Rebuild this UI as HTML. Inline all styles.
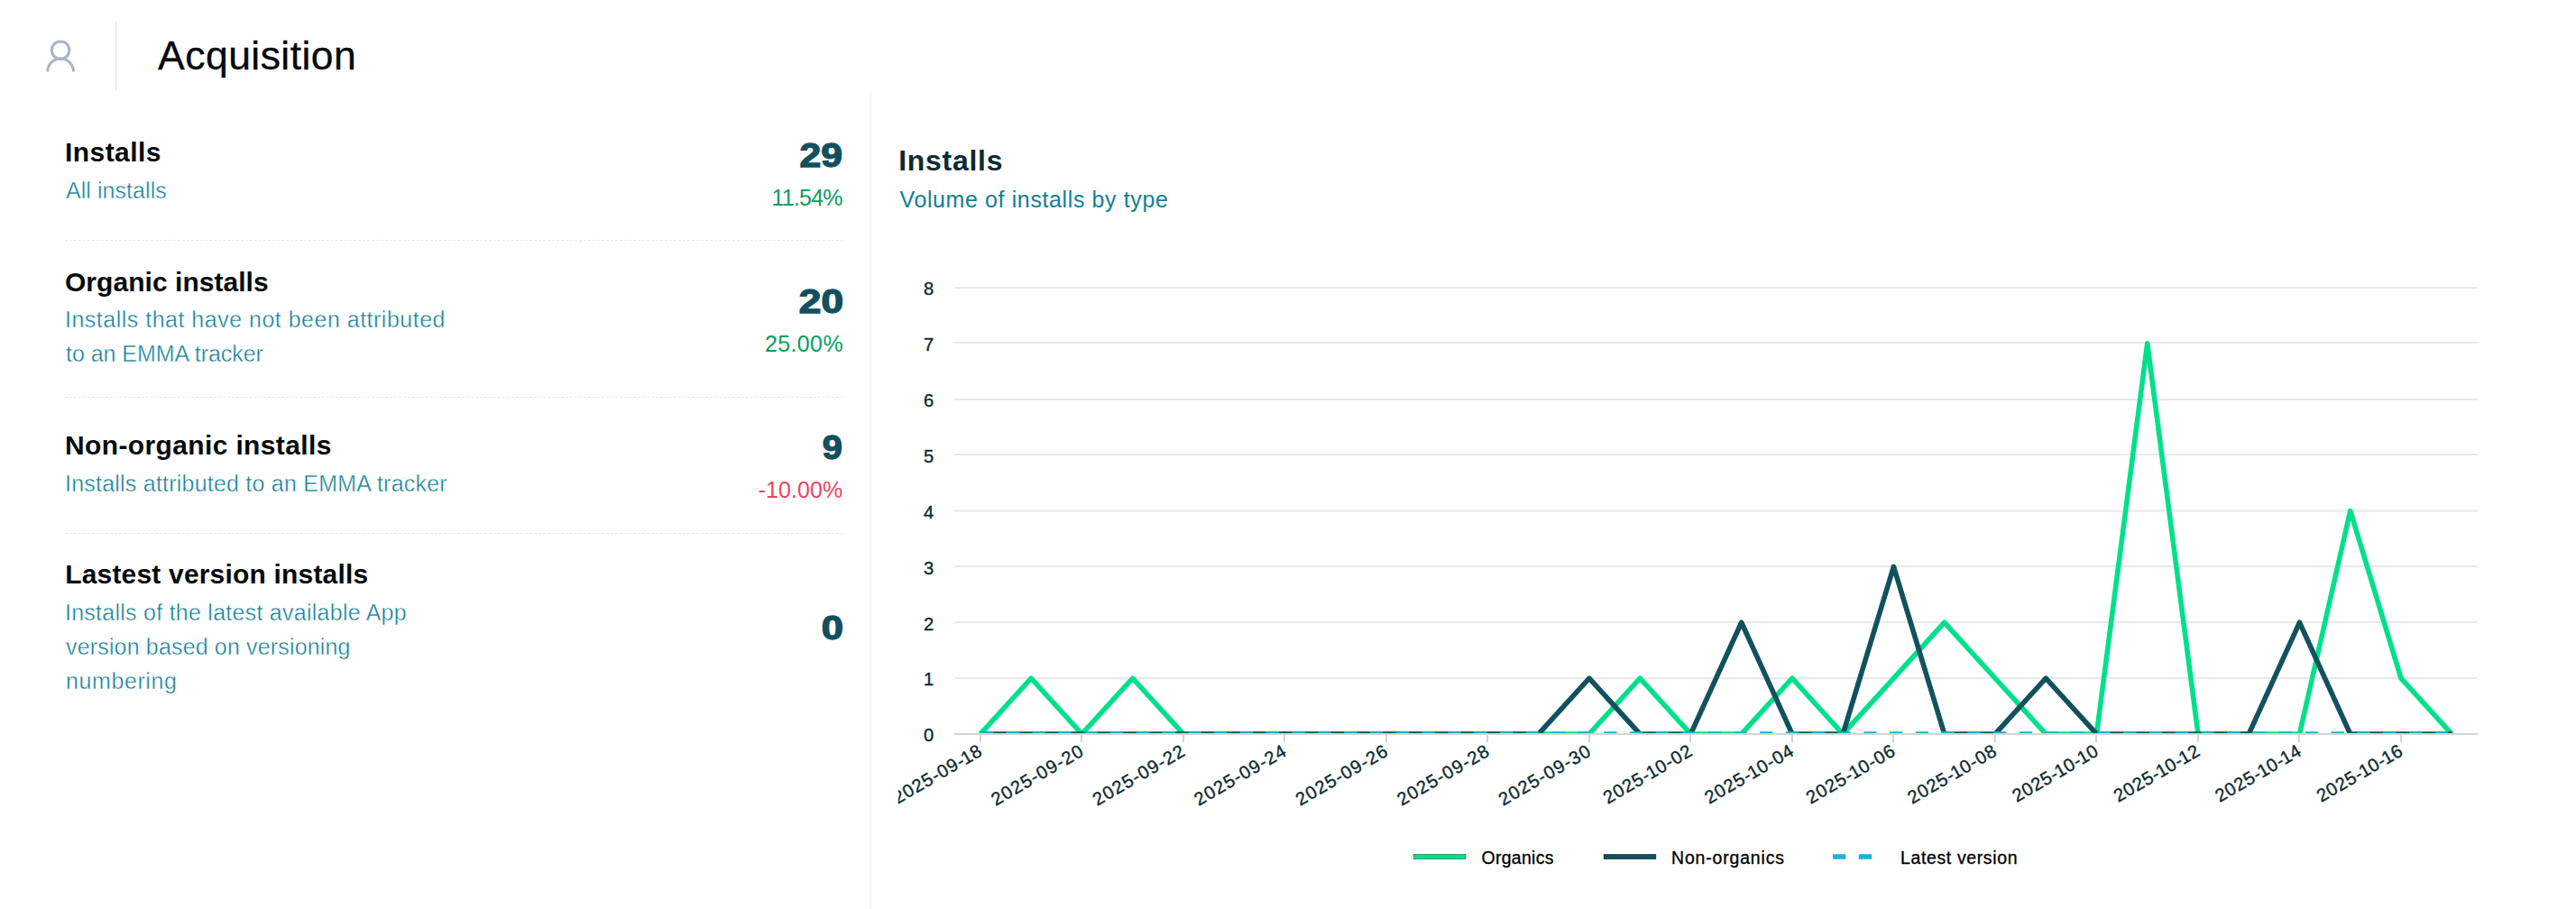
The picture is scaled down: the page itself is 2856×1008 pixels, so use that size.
<!DOCTYPE html><html lang="en"><head><meta charset="utf-8"><title>Acquisition</title><style>
*{margin:0;padding:0;box-sizing:border-box}
html,body{width:2856px;height:1008px;overflow:hidden;background:#fff}
body{position:relative;font-family:"Liberation Sans",Arial,sans-serif;color:#05090b}
.t{position:absolute;white-space:nowrap;line-height:1;font-weight:400}
.ln{display:block}
.h{font-weight:700;color:#04090b}
.d{color:#147f98;-webkit-text-stroke:0.4px #fff}
.n{font-weight:700;color:#13505f;-webkit-text-stroke:1.3px #13505f;transform-origin:100% 50%}
.up{color:#089f5c}
.dn{color:#f0425f}
.sep{position:absolute;left:72px;width:862px;height:1px;background:repeating-linear-gradient(90deg,#e4e7ee 0 3px,transparent 3px 5px)}
.v1{position:absolute;left:128px;top:23px;width:1px;height:78px;background:#dfe2ec}
.v2{position:absolute;left:965px;top:101px;width:1px;height:907px;background:#ecedf4}
.ico{position:absolute;left:47px;top:40px;width:40px;height:44px}
#chart{position:absolute;left:996px;top:250px;width:1860px;height:758px;overflow:hidden}
#chart text{font-family:"Liberation Sans",Arial,sans-serif}
.ax{fill:#0b2a33;font-size:20.3px;stroke:#0b2a33;stroke-width:.35px}
.lg{fill:#000;font-size:19.5px;stroke:#000;stroke-width:.3px}
</style></head><body>
<header>
<div class="ico"><svg width="40" height="44" viewBox="47 40 40 44" fill="none" stroke="#aab3cb" stroke-width="3"><circle cx="67.1" cy="55.7" r="9.75"/><path d="M52.75 79.4a14.35 14.35 0 0 1 28.7 0"/></svg></div>
<div class="v1"></div>
<h1 id="title" class="t" style="left:175.10px;top:39.71px;font-size:44.6px;letter-spacing:0.4px;color:#04090b;-webkit-text-stroke:.3px #04090b">Acquisition</h1>
</header>
<div class="v2"></div>
<section id="kpis">
<h3 id="h1" class="t h" style="left:72.00px;top:153.91px;font-size:30px;letter-spacing:0.429px;">Installs</h3>
<p id="d1" class="t d" style="left:73.00px;top:198.81px;font-size:25px;letter-spacing:0.055px;">All installs</p>
<strong id="n1" class="t n" style="right:1922.00px;top:154.81px;font-size:36px;transform:scaleX(1.1878);">29</strong>
<span id="p1" class="t up" style="right:1922.16px;top:207.01px;font-size:25px;letter-spacing:-0.76px;">11.54%</span>
<div class="sep" style="top:266px"></div>
<h3 id="h2" class="t h" style="left:72.00px;top:297.70px;font-size:30px;letter-spacing:0.04px;">Organic installs</h3>
<p id="d2" class="t d" style="left:72px;top:334.80px;font-size:25px;line-height:38.2px;"><span id="d2_0" class="ln" style="letter-spacing:0.497px;margin-left:0.00px">Installs that have not been attributed</span><span id="d2_1" class="ln" style="letter-spacing:-0.035px;margin-left:1.00px">to an EMMA tracker</span></p>
<strong id="n2" class="t n" style="right:1921.40px;top:317.40px;font-size:36px;transform:scaleX(1.2310);">20</strong>
<span id="p2" class="t up" style="right:1921.04px;top:369.01px;font-size:25px;letter-spacing:0.36px;">25.00%</span>
<div class="sep" style="top:440px"></div>
<h3 id="h3" class="t h" style="left:72.00px;top:478.91px;font-size:30px;letter-spacing:0.368px;">Non-organic installs</h3>
<p id="d3" class="t d" style="left:72.00px;top:523.90px;font-size:25px;letter-spacing:0.222px;">Installs attributed to an EMMA tracker</p>
<strong id="n3" class="t n" style="right:1921.80px;top:479.10px;font-size:36px;transform:scaleX(1.1084);">9</strong>
<span id="p3" class="t dn" style="right:1921.70px;top:530.90px;font-size:25px;letter-spacing:0.1px;">-10.00%</span>
<div class="sep" style="top:591px"></div>
<h3 id="h4" class="t h" style="left:72.20px;top:621.91px;font-size:30px;letter-spacing:0.183px;">Lastest version installs</h3>
<p id="d4" class="t d" style="left:72px;top:659.91px;font-size:25px;line-height:38.15px;"><span id="d4_0" class="ln" style="letter-spacing:0.257px;margin-left:0.00px">Installs of the latest available App</span><span id="d4_1" class="ln" style="letter-spacing:0.162px;margin-left:1.00px">version based on versioning</span><span id="d4_2" class="ln" style="letter-spacing:0.6px;margin-left:1.00px">numbering</span></p>
<strong id="n4" class="t n" style="right:1921.40px;top:679.31px;font-size:36px;transform:scaleX(1.2105);">0</strong>
</section>
<section id="panel">
<h2 id="ct" class="t" style="left:996.20px;top:162.20px;font-size:32px;letter-spacing:0.714px;font-weight:700;color:#0a2b34">Installs</h2>
<p id="cs" class="t" style="left:997.50px;top:208.60px;font-size:25px;letter-spacing:0.608px;color:#147e97">Volume of installs by type</p>
<svg id="chart" width="1860" height="758" viewBox="996 250 1860 758">
<defs><clipPath id="plot"><rect x="1058" y="300" width="1690" height="513"/></clipPath></defs>
<g stroke="#e9e9e9" stroke-width="2">
<line x1="1058" y1="319" x2="2747" y2="319"/>
<line x1="1058" y1="380" x2="2747" y2="380"/>
<line x1="1058" y1="443" x2="2747" y2="443"/>
<line x1="1058" y1="504" x2="2747" y2="504"/>
<line x1="1058" y1="566.5" x2="2747" y2="566.5"/>
<line x1="1058" y1="628" x2="2747" y2="628"/>
<line x1="1058" y1="690" x2="2747" y2="690"/>
<line x1="1058" y1="752" x2="2747" y2="752"/>
</g>
<g clip-path="url(#plot)" fill="none" stroke-width="5.6" stroke-linejoin="round" stroke-linecap="butt">
<path d="M1087.00 814.00 L1143.25 752.12 L1199.50 814.00 L1255.75 752.12 L1312.00 814.00 L1368.25 814.00 L1424.50 814.00 L1480.75 814.00 L1537.00 814.00 L1593.25 814.00 L1649.50 814.00 L1705.75 814.00 L1762.00 814.00 L1818.25 752.12 L1874.50 814.00 L1930.75 814.00 L1987.00 752.12 L2043.25 814.00 L2099.50 752.12 L2155.75 690.25 L2212.00 752.12 L2268.25 814.00 L2324.50 814.00 L2380.75 380.88 L2437.00 814.00 L2493.25 814.00 L2549.50 814.00 L2605.75 566.50 L2662.00 752.12 L2718.25 814.00" stroke="#00e08a"/>
<path d="M1087.00 814.00 L1143.25 814.00 L1199.50 814.00 L1255.75 814.00 L1312.00 814.00 L1368.25 814.00 L1424.50 814.00 L1480.75 814.00 L1537.00 814.00 L1593.25 814.00 L1649.50 814.00 L1705.75 814.00 L1762.00 752.12 L1818.25 814.00 L1874.50 814.00 L1930.75 690.25 L1987.00 814.00 L2043.25 814.00 L2099.50 628.38 L2155.75 814.00 L2212.00 814.00 L2268.25 752.12 L2324.50 814.00 L2380.75 814.00 L2437.00 814.00 L2493.25 814.00 L2549.50 690.25 L2605.75 814.00 L2662.00 814.00 L2718.25 814.00" stroke="#12515e"/>
<path d="M1087.00 814.00 L1143.25 814.00 L1199.50 814.00 L1255.75 814.00 L1312.00 814.00 L1368.25 814.00 L1424.50 814.00 L1480.75 814.00 L1537.00 814.00 L1593.25 814.00 L1649.50 814.00 L1705.75 814.00 L1762.00 814.00 L1818.25 814.00 L1874.50 814.00 L1930.75 814.00 L1987.00 814.00 L2043.25 814.00 L2099.50 814.00 L2155.75 814.00 L2212.00 814.00 L2268.25 814.00 L2324.50 814.00 L2380.75 814.00 L2437.00 814.00 L2493.25 814.00 L2549.50 814.00 L2605.75 814.00 L2662.00 814.00 L2718.25 814.00" stroke="#18b2db" stroke-dasharray="14.4 14.4" stroke-linecap="butt"/>
</g>
<g stroke="#d4d4d4" stroke-width="2">
<line x1="1058" y1="814" x2="2747" y2="814"/>
<line x1="1087" y1="814" x2="1087" y2="823"/>
<line x1="1199" y1="814" x2="1199" y2="823"/>
<line x1="1312" y1="814" x2="1312" y2="823"/>
<line x1="1424" y1="814" x2="1424" y2="823"/>
<line x1="1537" y1="814" x2="1537" y2="823"/>
<line x1="1649" y1="814" x2="1649" y2="823"/>
<line x1="1762" y1="814" x2="1762" y2="823"/>
<line x1="1874" y1="814" x2="1874" y2="823"/>
<line x1="1987" y1="814" x2="1987" y2="823"/>
<line x1="2099" y1="814" x2="2099" y2="823"/>
<line x1="2212" y1="814" x2="2212" y2="823"/>
<line x1="2324" y1="814" x2="2324" y2="823"/>
<line x1="2437" y1="814" x2="2437" y2="823"/>
<line x1="2549" y1="814" x2="2549" y2="823"/>
<line x1="2662" y1="814" x2="2662" y2="823"/>
</g>
<g class="ax" text-anchor="end">
<text x="1035.2" y="822.3">0</text>
<text x="1035.2" y="760.4">1</text>
<text x="1035.2" y="698.5">2</text>
<text x="1035.2" y="636.7">3</text>
<text x="1035.2" y="574.8">4</text>
<text x="1035.2" y="512.9">5</text>
<text x="1035.2" y="451.1">6</text>
<text x="1035.2" y="389.2">7</text>
<text x="1035.2" y="327.3">8</text>
</g>
<g class="ax" text-anchor="end" letter-spacing="1.1">
<text x="1090.9" y="836.5" dx="0 0 0 0 0 0 0 0 -1.5 -0.6" letter-spacing="0.91" transform="rotate(-30 1090.9 836.5)">2025-09-18</text>
<text x="1203.4" y="836.5" transform="rotate(-30 1203.4 836.5)">2025-09-20</text>
<text x="1315.9" y="836.5" transform="rotate(-30 1315.9 836.5)">2025-09-22</text>
<text x="1428.4" y="836.5" transform="rotate(-30 1428.4 836.5)">2025-09-24</text>
<text x="1540.9" y="836.5" transform="rotate(-30 1540.9 836.5)">2025-09-26</text>
<text x="1653.4" y="836.5" transform="rotate(-30 1653.4 836.5)">2025-09-28</text>
<text x="1765.9" y="836.5" transform="rotate(-30 1765.9 836.5)">2025-09-30</text>
<text x="1878.4" y="836.5" dx="0 0 0 0 0 -1.5 -0.6 0 0 0" letter-spacing="0.91" transform="rotate(-30 1878.4 836.5)">2025-10-02</text>
<text x="1990.9" y="836.5" dx="0 0 0 0 0 -1.5 -0.6 0 0 0" letter-spacing="0.91" transform="rotate(-30 1990.9 836.5)">2025-10-04</text>
<text x="2103.4" y="836.5" dx="0 0 0 0 0 -1.5 -0.6 0 0 0" letter-spacing="0.91" transform="rotate(-30 2103.4 836.5)">2025-10-06</text>
<text x="2215.9" y="836.5" dx="0 0 0 0 0 -1.5 -0.6 0 0 0" letter-spacing="0.91" transform="rotate(-30 2215.9 836.5)">2025-10-08</text>
<text x="2328.4" y="836.5" dx="0 0 0 0 0 -1.5 -0.6 0 -1.5 -0.6" letter-spacing="0.72" transform="rotate(-30 2328.4 836.5)">2025-10-10</text>
<text x="2440.9" y="836.5" dx="0 0 0 0 0 -1.5 -0.6 0 -1.5 -0.6" letter-spacing="0.72" transform="rotate(-30 2440.9 836.5)">2025-10-12</text>
<text x="2553.4" y="836.5" dx="0 0 0 0 0 -1.5 -0.6 0 -1.5 -0.6" letter-spacing="0.72" transform="rotate(-30 2553.4 836.5)">2025-10-14</text>
<text x="2665.9" y="836.5" dx="0 0 0 0 0 -1.5 -0.6 0 -1.5 -0.6" letter-spacing="0.72" transform="rotate(-30 2665.9 836.5)">2025-10-16</text>
</g>
<g class="lg">
<rect x="1567" y="947.2" width="58" height="5.6" fill="#00e08a"/>
<text x="1642.5" y="957.8" textLength="80" lengthAdjust="spacing">Organics</text>
<rect x="1778" y="947.2" width="58" height="5.6" fill="#12515e"/>
<text x="1853" y="957.8" textLength="125" lengthAdjust="spacing">Non-organics</text>
<path d="M2032 950H2089" stroke="#18b2db" stroke-width="5.6" stroke-dasharray="14.4 14.4" fill="none"/>
<text x="2107" y="957.8" textLength="129.5" lengthAdjust="spacing">Latest version</text>
</g>
</svg>
</section>
</body></html>
